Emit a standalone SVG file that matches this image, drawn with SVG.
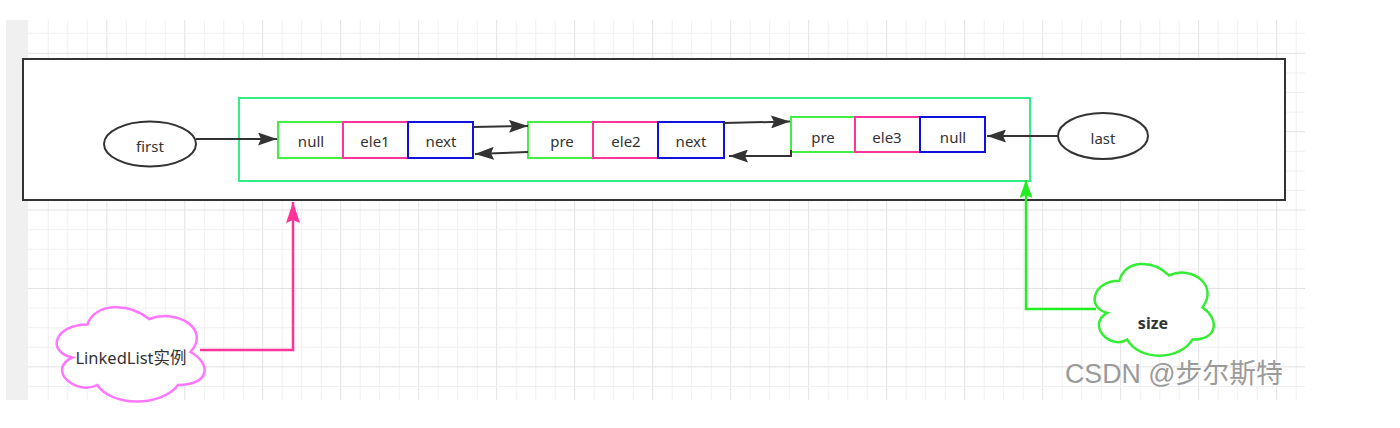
<svg xmlns="http://www.w3.org/2000/svg" width="1400" height="428" viewBox="0 0 1400 428">
<style>
.t{font-family:"Noto Sans","Noto Sans CJK SC",sans-serif;font-size:15px;fill:#333;text-anchor:middle;dominant-baseline:central}
.g1{stroke:#f0f0f0;stroke-width:1}
.g2{stroke:#e2e2e2;stroke-width:1}
.cg{fill:#fff;stroke:#44ee44;stroke-width:2}
.cp{fill:#fff;stroke:#ff3399;stroke-width:2}
.cb{fill:#fff;stroke:#1111dd;stroke-width:2}
.blk{fill:none;stroke:#333;stroke-width:2}
</style>
<defs>
<marker id="ah" markerUnits="userSpaceOnUse" markerWidth="19" markerHeight="13" refX="19" refY="6.5" orient="auto">
<path d="M0,0 L19,6.5 L0,13 L3,6.5 z" fill="#333"/>
</marker>
<marker id="ahp" markerUnits="userSpaceOnUse" markerWidth="21" markerHeight="14" refX="21" refY="7" orient="auto">
<path d="M0,0 L21,7 L0,14 L3,7 z" fill="#ff3399"/>
</marker>
<marker id="ahg" markerUnits="userSpaceOnUse" markerWidth="18" markerHeight="13" refX="18" refY="6.5" orient="auto">
<path d="M0,0 L18,6.5 L0,13 L3,6.5 z" fill="#22ee22"/>
</marker>
</defs>
<rect width="1400" height="428" fill="#fff"/>
<g id="canvas">
<rect x="6" y="20" width="22" height="380" fill="#f0f0f0"/>
<g id="grid">
<path class="g1" d="M48.3 20V400M67.8 20V400M87.3 20V400M126.3 20V400M145.8 20V400M165.3 20V400M204.3 20V400M223.8 20V400M243.3 20V400M282.2 20V400M301.7 20V400M321.2 20V400M360.2 20V400M379.7 20V400M399.2 20V400M438.2 20V400M457.7 20V400M477.2 20V400M516.2 20V400M535.7 20V400M555.2 20V400M594.2 20V400M613.7 20V400M633.2 20V400M672.2 20V400M691.7 20V400M711.2 20V400M750.2 20V400M769.7 20V400M789.2 20V400M828.2 20V400M847.7 20V400M867.2 20V400M906.2 20V400M925.7 20V400M945.2 20V400M984.2 20V400M1003.7 20V400M1023.2 20V400M1062.2 20V400M1081.7 20V400M1101.2 20V400M1140.2 20V400M1159.7 20V400M1179.2 20V400M1218.2 20V400M1237.7 20V400M1257.2 20V400M1296.2 20V400"/>
<path class="g2" d="M106.8 20V400M184.8 20V400M262.7 20V400M340.7 20V400M418.7 20V400M496.7 20V400M574.7 20V400M652.7 20V400M730.7 20V400M808.7 20V400M886.7 20V400M964.7 20V400M1042.7 20V400M1120.7 20V400M1198.7 20V400M1276.7 20V400"/>
<path class="g1" d="M28 33.3H1305M28 72.9H1305M28 92.5H1305M28 112.1H1305M28 151.3H1305M28 170.9H1305M28 190.5H1305M28 229.7H1305M28 249.3H1305M28 268.9H1305M28 308.1H1305M28 327.7H1305M28 347.3H1305M28 386.5H1305"/>
<path class="g2" d="M28 53.3H1305M28 131.7H1305M28 210.1H1305M28 288.5H1305M28 366.9H1305"/>
</g>
</g>
<g id="linkedlist-box">
<rect x="23" y="59" width="1262" height="141" fill="#fff" stroke="#333" stroke-width="2"/>
</g>
<g id="nodes-container">
<rect x="239" y="98" width="791" height="83" fill="none" stroke="#33ee88" stroke-width="2"/>
</g>
<g id="first">
<ellipse cx="150" cy="144" rx="46" ry="22.5" fill="#fff" stroke="#333" stroke-width="2"/>
<text class="t" x="150" y="146">first</text>
</g>
<g id="last">
<ellipse cx="1103" cy="136" rx="45" ry="23" fill="#fff" stroke="#333" stroke-width="2"/>
<text class="t" x="1103" y="138">last</text>
</g>
<g id="node1">
<rect class="cg" x="278" y="122" width="65" height="36"/>
<rect class="cp" x="343" y="122" width="65" height="36"/>
<rect class="cb" x="408" y="122" width="65" height="36"/>
<text class="t" x="311" y="141">null</text>
<text class="t" x="375" y="141">ele1</text>
<text class="t" x="441" y="141">next</text>
</g>
<g id="node2">
<rect class="cg" x="528" y="122" width="65" height="36"/>
<rect class="cp" x="593" y="122" width="65" height="36"/>
<rect class="cb" x="658" y="122" width="66" height="36"/>
<text class="t" x="562" y="141">pre</text>
<text class="t" x="626" y="141">ele2</text>
<text class="t" x="691" y="141">next</text>
</g>
<g id="node3">
<rect class="cg" x="791" y="117" width="64" height="35"/>
<rect class="cp" x="855" y="117" width="65" height="35"/>
<rect class="cb" x="920" y="117" width="65" height="35"/>
<text class="t" x="823" y="137">pre</text>
<text class="t" x="887" y="137">ele3</text>
<text class="t" x="953" y="137">null</text>
</g>
<g id="linkedlist-cloud">
<path d="M87.3 324.5C54.3 324.5 46 352 72.4 357.5C46 369.6 75.7 396 97.2 385C112 407 161.5 407 178 385C211 385 211 363 190.4 352C211 330 178 308 149.1 319C128.5 302.5 95.5 302.5 87.3 324.5Z" fill="#fff" stroke="#ff77ff" stroke-width="2.5"/>
<text class="t" x="131" y="357" style="font-size:16.5px">LinkedList实例</text>
</g>
<g id="size-cloud">
<path d="M1119.3 280.8C1092.7 280.8 1086 307.5 1107.3 312.9C1086 324.6 1109.9 350.3 1127.2 339.6C1139.2 361 1179.1 361 1192.4 339.6C1219 339.6 1219 318.2 1202.4 307.5C1219 286.1 1192.4 264.7 1169.1 275.4C1152.5 259.4 1125.9 259.4 1119.3 280.8Z" fill="#fff" stroke="#33ee33" stroke-width="2.5"/>
<text class="t" x="1153" y="323" style="font-size:16px;font-weight:bold">size</text>
</g>
<g id="connectors">
<path class="blk" d="M196 139H277" marker-end="url(#ah)"/>
<path class="blk" d="M473 127L528 126" marker-end="url(#ah)"/>
<path class="blk" d="M528 152L475 154" marker-end="url(#ah)"/>
<path class="blk" d="M724 123L790 121.5" marker-end="url(#ah)"/>
<path class="blk" d="M791 150V156H729" marker-end="url(#ah)"/>
<path class="blk" d="M1058 136H987" marker-end="url(#ah)"/>
<path d="M200 350H293V202" fill="none" stroke="#ff3399" stroke-width="2.5" marker-end="url(#ahp)"/>
<path d="M1096 309H1026V180" fill="none" stroke="#22ee22" stroke-width="2.5" marker-end="url(#ahg)"/>
</g>
<text x="1065" y="383" style="font-family:'Liberation Sans','Noto Sans CJK SC',sans-serif;font-size:26.8px;fill:#9a9a9a;stroke:#fff;stroke-width:0.6;paint-order:stroke">CSDN @步尔斯特</text>
</svg>
